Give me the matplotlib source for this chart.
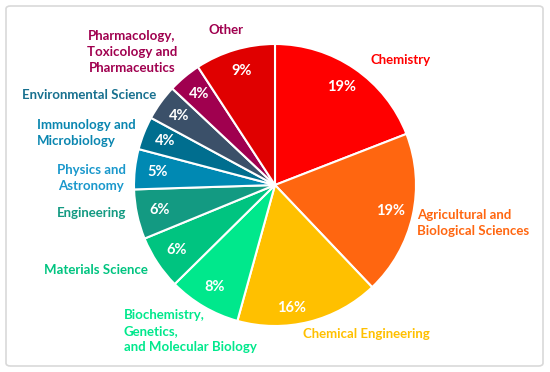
import matplotlib
matplotlib.use("Agg")
from matplotlib import pyplot as plt
from matplotlib.patches import FancyBboxPatch

categories = ["Chemistry", "Agricultural and\nBiological Sciences", "Chemical Engineering",
              "Biochemistry,\nGenetics,\nand Molecular Biology", "Materials Science", "Engineering",
              "Physics and\nAstronomy", "Immunology and\nMicrobiology", "Environmental Science",
              "Pharmacology,\nToxicology and\nPharmaceutics", "Other"]
shares = [19.1, 18.8, 16.4, 8.3, 6.2, 5.7, 4.6, 3.8, 4.1, 3.8, 9.2]
colors = ["#FF0000", "#FF6610", "#FFC000", "#00E88C", "#00C480", "#139A82",
          "#0089B3", "#006E8F", "#3B5069", "#A0004F", "#E00000"]
label_colors = ["#FF0000", "#FF6610", "#FFC000", "#00E88C", "#00C480", "#139A82",
                "#1A98CC", "#0A86B0", "#17708F", "#A0004F", "#A0004F"]

# label placement (pixel coords, y from top), alignment
label_pos = [(401, 60, "center"), (417, 223, "left"), (366, 334, "center"),
             (124, 331, "left"), (148, 270, "right"), (126, 213, "right"),
             (91, 178, "center"), (37, 133, "left"), (156, 95, "right"),
             (132, 52, "center"), (226, 30, "center")]

W, H = 550, 372
fig = plt.figure(figsize=(5.5, 3.72), dpi=100)
ax = fig.add_axes([0, 0, 1, 1])

fig.patches.append(FancyBboxPatch((6 / W, 6 / H), 537 / W, 360 / H,
                                  boxstyle="round,pad=0,rounding_size=0.008",
                                  transform=fig.transFigure, fill=False,
                                  edgecolor="#D9D9D9", linewidth=1.2))

font = ["Lato", "DejaVu Sans"]
wedges, texts, autotexts = ax.pie(shares, colors=colors, startangle=90, counterclock=False,
                                  center=(275, H - 185), radius=141, autopct="%.0f%%",
                                  pctdistance=0.84, frame=True,
                                  wedgeprops=dict(edgecolor="white", linewidth=1.5),
                                  textprops=dict(color="white", fontsize=10.5,
                                                 fontweight="bold", family=font))
ax.set_xlim(0, W)
ax.set_ylim(0, H)
ax.set_aspect("equal")
ax.axis("off")

# the 16% label sits a bit lower and further left in the original
x, y = autotexts[2].get_position()
autotexts[2].set_position((x - 12, y - 8))

for name, col, (x, y, ha) in zip(categories, label_colors, label_pos):
    ax.text(x, H - y, name, color=col, ha=ha, va="center", fontsize=9.5,
            fontweight="bold", family=font, linespacing=1.4)

fig.savefig("out.png", dpi=100)
